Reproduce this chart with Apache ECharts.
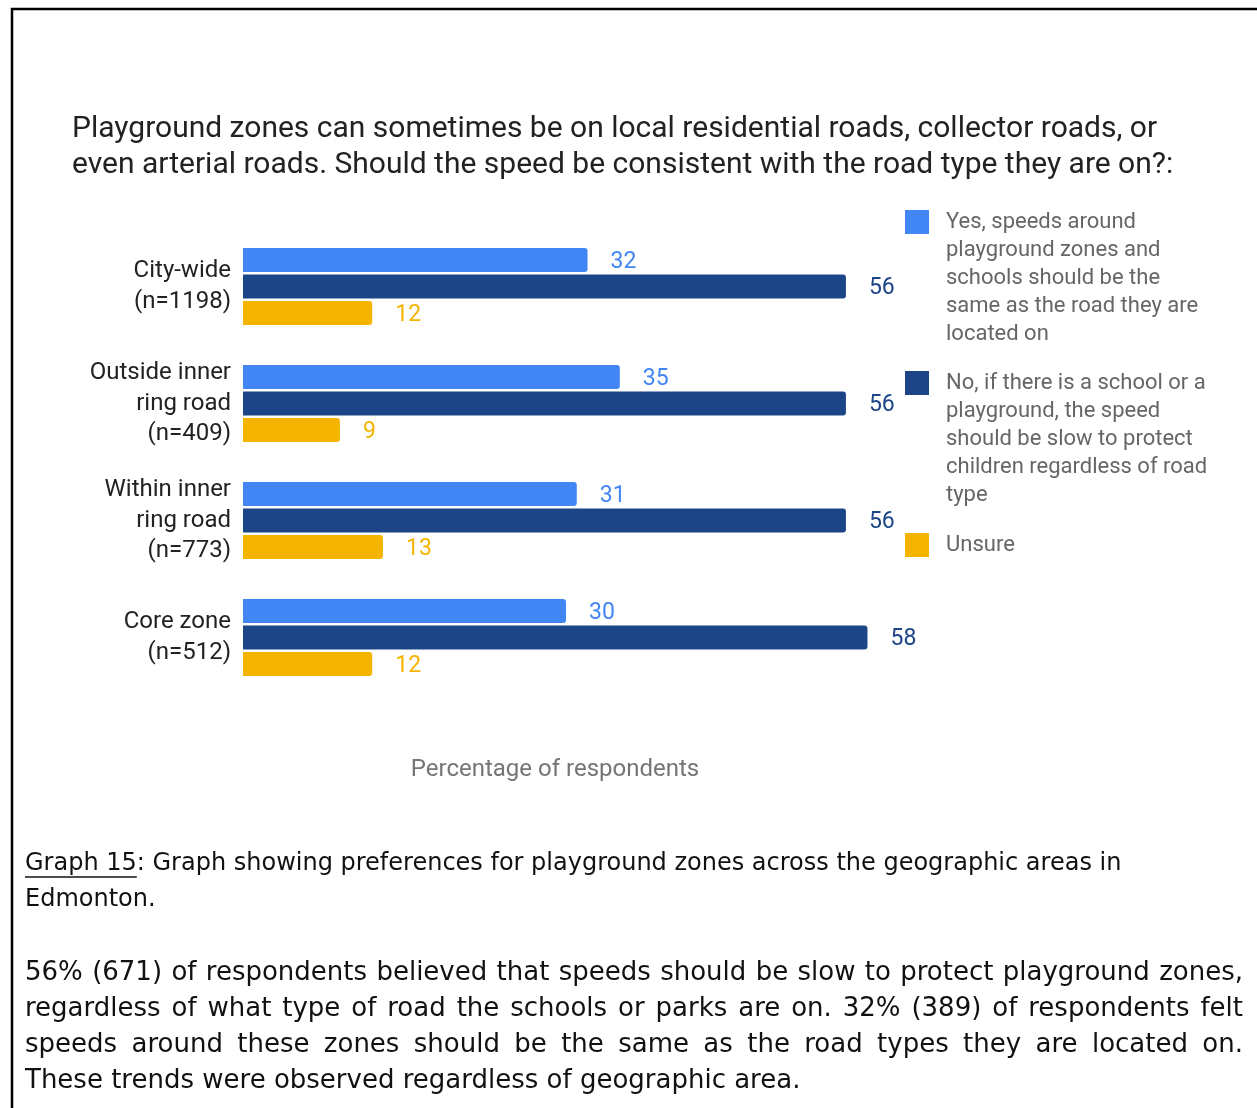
<!DOCTYPE html>
<html>
<head>
<meta charset="utf-8">
<script src="https://cdn.jsdelivr.net/npm/echarts@6/dist/echarts.min.js"></script>
<style>
  html, body { margin: 0; padding: 0; background: #fff; }
  #chart { width: 1257px; height: 1108px; }
</style>
</head>
<body>
<div id="chart"></div>
<script>
// Chart text and data
const titleText = 'Playground zones can sometimes be on local residential roads, collector roads, or\neven arterial roads. Should the speed be consistent with the road type they are on?:';
const categories = ['City-wide\n(n=1198)', 'Outside inner\nring road\n(n=409)', 'Within inner\nring road\n(n=773)', 'Core zone\n(n=512)'];
const seriesNames = [
  'Yes, speeds around\nplayground zones and\nschools should be the\nsame as the road they are\nlocated on',
  'No, if there is a school or a\nplayground, the speed\nshould be slow to protect\nchildren regardless of road\ntype',
  'Unsure'
];
const yesValues = [32, 35, 31, 30];
const noValues = [56, 56, 56, 58];
const unsureValues = [12, 9, 13, 12];
const seriesColors = ['#4285f4', '#1c4587', '#f4b400'];
const axisTitle = 'Percentage of respondents';
const captionLines = [
  'Graph 15: Graph showing preferences for playground zones across the geographic areas in',
  'Edmonton.'
];
const captionLink = 'Graph 15';
const paragraphLines = [
  '56% (671) of respondents believed that speeds should be slow to protect playground zones,',
  'regardless of what type of road the schools or parks are on. 32% (389) of respondents felt',
  'speeds around these zones should be the same as the road types they are located on.',
  'These trends were observed regardless of geographic area.'
];

const chart = echarts.init(document.getElementById('chart'), null, { renderer: 'canvas' });

// Text layout helpers for the caption block below the chart
const measureCtx = document.createElement('canvas').getContext('2d');
const captionFont = '24px "DejaVu Sans"';
const paragraphFont = '26px "DejaVu Sans"';
const textLeft = 25, textRight = 1243;
function textWidth(str, font) {
  measureCtx.font = font;
  return measureCtx.measureText(str).width;
}
function lineElements(text, y, font, justify) {
  if (!justify) {
    return [{ type: 'text', x: textLeft, y: y, style: { text: text, font: font, fill: '#111', textVerticalAlign: 'middle' } }];
  }
  const words = text.split(' ');
  const widths = words.map(w => textWidth(w, font));
  const total = widths.reduce((a, b) => a + b, 0);
  const gap = (textRight - textLeft - total) / (words.length - 1);
  const out = [];
  let x = textLeft;
  words.forEach((w, i) => {
    out.push({ type: 'text', x: x, y: y, style: { text: w, font: font, fill: '#111', textVerticalAlign: 'middle' } });
    x += widths[i] + gap;
  });
  return out;
}

const graphics = [
  { type: 'polyline', shape: { points: [[12, 1108], [12, 9], [1257, 9]] }, style: { stroke: '#000', lineWidth: 2.5, fill: null } }
];
captionLines.forEach((line, i) => graphics.push(...lineElements(line, 864 + i * 36, captionFont, false)));
graphics.push({ type: 'line', shape: { x1: textLeft, y1: 877, x2: textLeft + textWidth(captionLink, captionFont), y2: 877 }, style: { stroke: '#111', lineWidth: 1.5 } });
paragraphLines.forEach((line, i) => graphics.push(...lineElements(line, 973 + i * 36, paragraphFont, i < paragraphLines.length - 1)));

// One legend block per series; blank lines above each label keep its icon beside the first line
const legendTops = [96, 257, 531];
const legends = seriesNames.map((name, i) => {
  const extra = name.split('\n').length - 1;
  return {
    data: [name],
    orient: 'vertical',
    left: 905,
    top: legendTops[i],
    padding: 0,
    itemWidth: 24,
    itemHeight: 24,
    icon: 'rect',
    formatter: n => '\n'.repeat(extra) + n,
    textStyle: {
      fontFamily: 'Roboto',
      fontSize: 22,
      color: '#666',
      lineHeight: 28,
      padding: [0, 0, 0, 12]
    }
  };
});

const values = [yesValues, noValues, unsureValues];

chart.setOption({
  animation: false,
  backgroundColor: '#fff',
  title: {
    text: titleText,
    left: 72,
    top: 111,
    padding: 0,
    textStyle: { fontFamily: 'Roboto', fontSize: 30, fontWeight: 'normal', color: '#222', lineHeight: 36 }
  },
  legend: legends,
  grid: { left: 243, top: 228, width: 646, height: 468, containLabel: false },
  xAxis: {
    type: 'value',
    min: 0,
    max: 60,
    axisLine: { show: false },
    axisTick: { show: false },
    axisLabel: { show: false },
    splitLine: { show: false },
    name: axisTitle,
    nameLocation: 'middle',
    nameGap: 62,
    nameTextStyle: { fontFamily: 'Roboto', fontSize: 24, color: '#757575', padding: [0, 22, 0, 0] }
  },
  yAxis: {
    type: 'category',
    data: categories,
    inverse: true,
    axisLine: { show: false },
    axisTick: { show: false },
    axisLabel: { fontFamily: 'Roboto', fontSize: 24, color: '#222', lineHeight: 30.5, margin: 12, padding: [8, 0, 0, 0] }
  },
  series: seriesNames.map((name, i) => ({
    name: name,
    type: 'bar',
    data: values[i],
    barWidth: 24,
    barGap: '10%',
    itemStyle: { color: seriesColors[i], borderRadius: [0, 3, 3, 0] },
    label: {
      show: true,
      position: 'right',
      distance: 23,
      offset: [0, 2],
      fontFamily: 'Roboto',
      fontSize: 23,
      color: seriesColors[i]
    }
  })),
  graphic: graphics
});
</script>
</body>
</html>
